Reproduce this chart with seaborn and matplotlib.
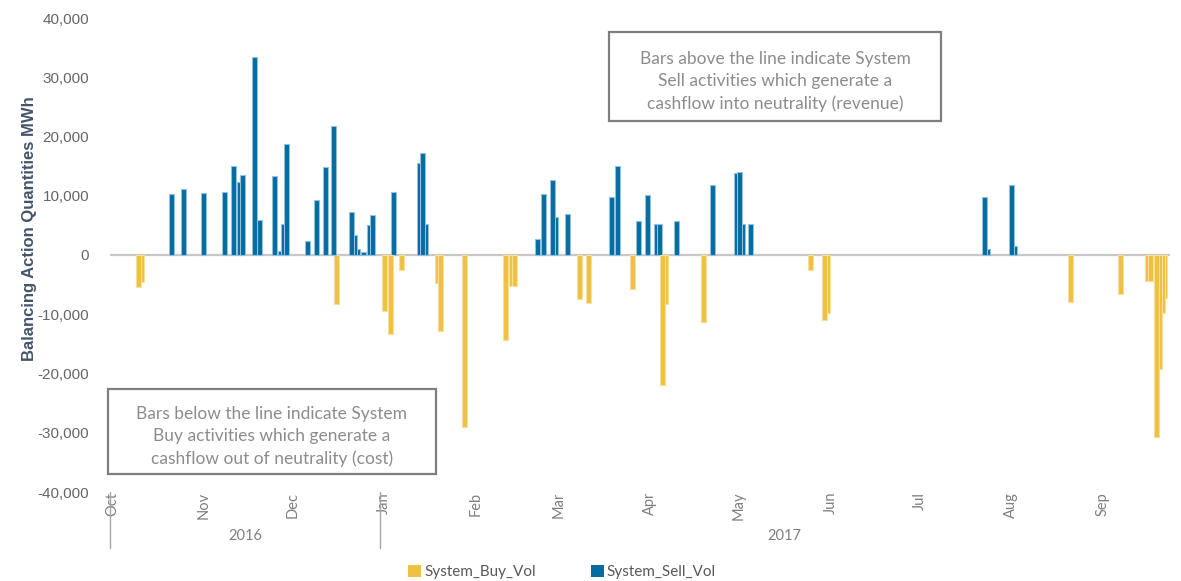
import matplotlib
matplotlib.use("Agg")
import pandas as pd
import seaborn as sns
from matplotlib import pyplot as plt
from matplotlib.patches import Patch, Rectangle
from matplotlib.ticker import FuncFormatter
from matplotlib.transforms import blended_transform_factory

start = pd.Timestamp("2016-10-01")

buy_dates = ["2016-10-10", "2016-10-11", "2016-12-16", "2017-01-01", "2017-01-03",
             "2017-01-07", "2017-01-19", "2017-01-20", "2017-01-28", "2017-02-11",
             "2017-02-13", "2017-02-14", "2017-03-08", "2017-03-11", "2017-03-26",
             "2017-04-05", "2017-04-06", "2017-04-19", "2017-05-25", "2017-05-30",
             "2017-05-31", "2017-08-21", "2017-09-07", "2017-09-16", "2017-09-17",
             "2017-09-19", "2017-09-20", "2017-09-21", "2017-09-22"]
buy_vol = [-5350, -4500, -8300, -9450, -13300,
           -2500, -4800, -12900, -29100, -14400,
           -5300, -5300, -7500, -8150, -5800,
           -21900, -8300, -11350, -2500, -10900,
           -9850, -7900, -6600, -4400, -4400,
           -30700, -19200, -9850, -7200]

sell_dates = ["2016-10-21", "2016-10-25", "2016-11-01", "2016-11-08", "2016-11-11",
              "2016-11-13", "2016-11-14", "2016-11-18", "2016-11-20", "2016-11-25",
              "2016-11-27", "2016-11-28", "2016-11-29", "2016-12-06", "2016-12-09",
              "2016-12-12", "2016-12-15", "2016-12-21", "2016-12-22", "2016-12-23",
              "2016-12-25", "2016-12-27", "2016-12-28", "2017-01-04", "2017-01-13",
              "2017-01-14", "2017-01-15", "2017-02-22", "2017-02-23", "2017-02-24",
              "2017-02-27", "2017-02-28", "2017-03-04", "2017-03-19", "2017-03-21",
              "2017-03-28", "2017-03-31", "2017-04-03", "2017-04-04", "2017-04-10",
              "2017-04-22", "2017-04-30", "2017-05-01", "2017-05-02", "2017-05-05",
              "2017-07-23", "2017-07-24", "2017-08-01", "2017-08-02"]
sell_vol = [10250, 11100, 10500, 10700, 15000,
            12400, 13500, 33500, 5850, 13300,
            700, 5300, 18700, 2400, 9200,
            14800, 21800, 7200, 3300, 1000,
            450, 5000, 6750, 10700, 15500,
            17200, 5200, 2650, 700, 10250,
            12650, 6350, 7000, 9850, 15000,
            5750, 10100, 5200, 5200, 5750,
            11750, 13800, 13950, 5200, 5200,
            9800, 950, 11750, 1600]

month_starts = pd.date_range("2016-10-01", "2017-09-01", freq="MS")
month_labels = [d.strftime("%b") for d in month_starts]
year_labels = ["2016", "2017"]

note_above = "Bars above the line indicate System\nSell activities which generate a\ncashflow into neutrality (revenue)"
note_below = "Bars below the line indicate System\nBuy activities which generate a\ncashflow out of neutrality (cost)"


def to_day(dates):
    return (pd.to_datetime(dates) - start).days


df = pd.concat([
    pd.DataFrame({"day": to_day(buy_dates), "series": "System_Buy_Vol", "volume": buy_vol}),
    pd.DataFrame({"day": to_day(sell_dates), "series": "System_Sell_Vol", "volume": sell_vol}),
])

sns.set_theme(style="white")
plt.rcParams["font.family"] = ["Lato", "DejaVu Sans"]

colors = {"System_Buy_Vol": "#efc142", "System_Sell_Vol": "#036ca1"}
edges = {"System_Buy_Vol": "#f8df9a", "System_Sell_Vol": "#93c1dd"}
grey = "#7f7f7f"

fig = plt.figure(figsize=(11.81, 5.81), dpi=100)
ax = fig.add_axes([110 / 1181, 89 / 581, 1060 / 1181, 474 / 581])

for name, sub in df.groupby("series"):
    sns.barplot(data=sub, x="day", y="volume", native_scale=True, color=colors[name],
                edgecolor=edges[name], linewidth=0.8, saturation=1, width=1.7,
                errorbar=None, ax=ax)

# bigger bars sit on top where neighbouring days overlap
for p in ax.patches:
    p.set_zorder(2 + abs(p.get_height()) / 1e5)

ax.axhline(0, color="#c8c8c8", lw=1.6, zorder=1)

x_left, x_right = -0.7, 357.7
ax.set_xlim(x_left, x_right)
ax.set_ylim(-40000, 40000)

ax.set_xticks(to_day(month_starts), month_labels, rotation=90)
ax.tick_params(axis="x", length=0, pad=0, labelsize=10.5, labelcolor=grey)
ax.set_yticks(range(-40000, 40001, 10000))
ax.yaxis.set_major_formatter(FuncFormatter(lambda v, _: f"{v:,.0f}"))
ax.tick_params(axis="y", length=0, pad=15, labelsize=11, labelcolor="#666666",
               labelfontfamily="Liberation Sans")
ax.set(xlabel="")
ax.set_ylabel("Balancing Action Quantities MWh", fontsize=12, fontweight="bold",
              color="#44546a", fontfamily="Liberation Sans")
ax.yaxis.set_label_coords(-73 / 1060, 0.555)
sns.despine(ax=ax, left=True, bottom=True)
ax.grid(False)

# year groups under the month labels
trans = blended_transform_factory(ax.transData, ax.transAxes)
jan_line = to_day(["2017-01-01"])[0] - 1.4
year_end = to_day(["2017-10-01"])[0] - 0.7
for xv in [x_left, jan_line]:
    ax.plot([xv, xv], [0, -0.118], transform=trans, color="#a6a6a6", lw=1, clip_on=False)
for lbl, (a, b) in zip(year_labels, [(x_left, jan_line), (jan_line, year_end)]):
    ax.text((a + b) / 2, -0.093, lbl, transform=trans, ha="center", va="center",
            fontsize=10.5, color=grey)

# note boxes
for (x0, y0, x1, y1), txt in [((609, 32, 941, 121), note_above), ((108, 389, 436, 474), note_below)]:
    fig.patches.append(Rectangle((x0 / 1181, 1 - y1 / 581), (x1 - x0) / 1181, (y1 - y0) / 581,
                                 transform=fig.transFigure, fill=True, facecolor="white",
                                 edgecolor="#7f7f7f", lw=1.6, zorder=5))
    fig.text((x0 + x1) / 2 / 1181, 1 - ((y0 + y1) / 2 + 5) / 581, txt, ha="center", va="center",
             fontsize=12.5, color="#8c8c8c", linespacing=1.5, zorder=6)

handles = [Patch(facecolor=colors[k], edgecolor="none") for k in colors]
fig.legend(handles, list(colors), loc="center", bbox_to_anchor=(562 / 1181, 1 - 572 / 581),
           ncol=2, frameon=False, handlelength=0.85, handleheight=0.85, handletextpad=0.2,
           columnspacing=3.6, fontsize=11, labelcolor="#595959")

fig.savefig("out.png", dpi=100)
